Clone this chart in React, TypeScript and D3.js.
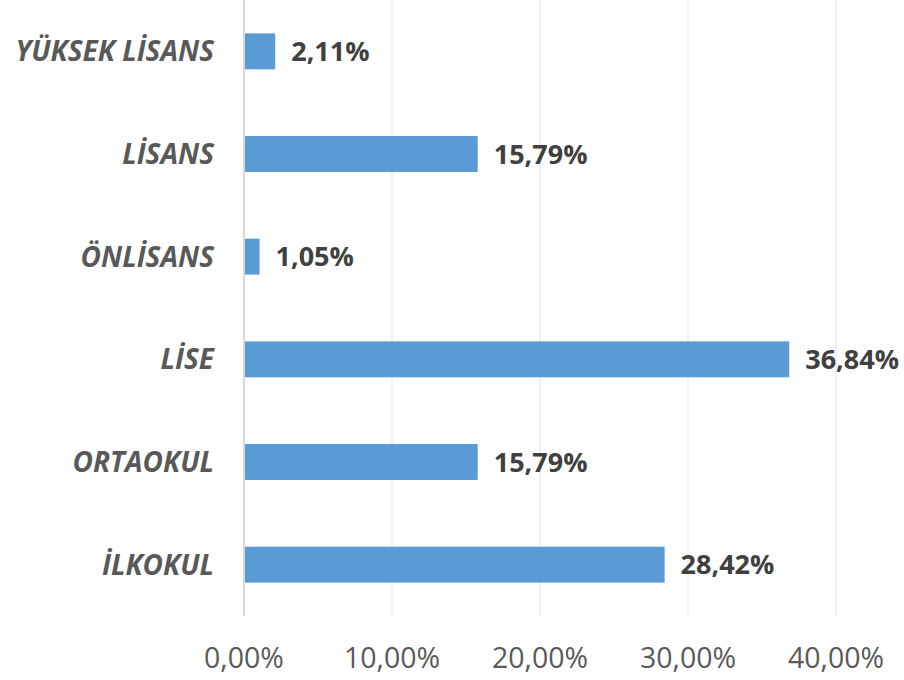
import React from "react";
import * as d3 from "d3";

const categories = ["YÜKSEK LİSANS", "LİSANS", "ÖNLİSANS", "LİSE", "ORTAOKUL", "İLKOKUL"];
const values = [2.11, 15.79, 1.05, 36.84, 15.79, 28.42];
const ticks = [0, 10, 20, 30, 40];

const W = 904;
const H = 680;
const fmt = (v: number) => v.toFixed(2).replace(".", ",") + "%";

export default function App() {
  const x = d3.scaleLinear().domain([0, 40]).range([244, 836]);
  const y = d3.scaleBand<string>().domain(categories).range([0, 616]).paddingInner(0.65).paddingOuter(0.325);
  const font = "'Open Sans', 'Noto Sans', sans-serif";
  return (
    <svg width={W} height={H} style={{ position: "absolute", left: 0, top: 0, background: "#fff" }}>
      {ticks.map((t) => (
        <line key={"g" + t} x1={x(t)} x2={x(t)} y1={0} y2={616} stroke="#e8edf5" strokeWidth={1.5} />
      ))}
      {categories.map((c, i) => (
        <rect key={c} x={x(0)} y={y(c)!} width={x(values[i]) - x(0)} height={y.bandwidth()} fill="#5b9bd5" />
      ))}
      <line x1={x(0)} x2={x(0)} y1={0} y2={616} stroke="#d9d9d9" strokeWidth={2} />
      {categories.map((c, i) => (
        <text
          key={"l" + c}
          x={214}
          y={y(c)! + y.bandwidth() / 2}
          dy="0.36em"
          textAnchor="end"
          fontFamily={font}
          fontWeight="bold"
          fontStyle="italic"
          fontSize={28}
          fill="#595959"
        >
          {c}
        </text>
      ))}
      {categories.map((c, i) => (
        <text
          key={"v" + c}
          x={x(values[i]) + 16}
          y={y(c)! + y.bandwidth() / 2}
          dy="0.36em"
          fontFamily={font}
          fontWeight="bold"
          fontSize={27}
          fill="#404040"
        >
          {fmt(values[i])}
        </text>
      ))}
      {ticks.map((t) => (
        <text key={"t" + t} x={x(t)} y={668} textAnchor="middle" fontFamily={font} fontSize={28.5} fill="#595959">
          {fmt(t)}
        </text>
      ))}
    </svg>
  );
}
